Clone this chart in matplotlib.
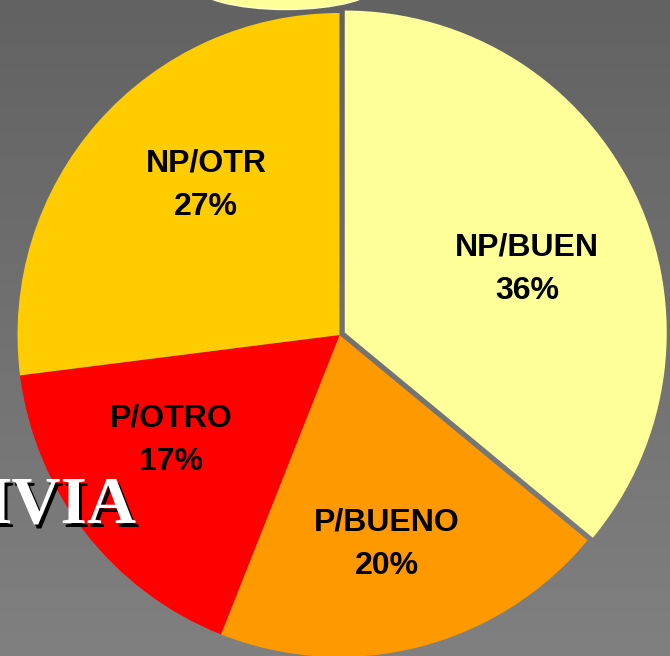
import numpy as np
import matplotlib
matplotlib.use("Agg")
import matplotlib.pyplot as plt
from matplotlib.patches import Ellipse

categories = ["NP/BUEN", "P/BUENO", "P/OTRO", "NP/OTR"]
values = [36, 20, 17, 27]
colors = ["#FFFF99", "#FF9900", "#FF0000", "#FFCC00"]
explode = [5.8, 0, 0, 0]

W, H = 670, 656
fig = plt.figure(figsize=(W / 100, H / 100), dpi=100)
ax = fig.add_axes([0, 0, 1, 1])
ax.set_xlim(0, W)
ax.set_ylim(0, H)
ax.axis("off")

# background gradient (dark top -> lighter bottom)
grad = np.linspace(98, 128, 256)[:, None] / 255.0
grad = np.repeat(grad, 2, axis=1)
ax.imshow(np.dstack([grad, grad, grad]), extent=[0, W, 0, H], aspect="auto",
          origin="upper", zorder=0)

# partial decorative oval at top
ax.add_patch(Ellipse((286, H + 15), 182, 49, facecolor="#FFFF99",
                     edgecolor="#FFFFCC", lw=1, zorder=1))

cx, cy, r = 339.5, H - 335, 322
wedges, _ = ax.pie(values, colors=colors, explode=explode, startangle=90,
                   counterclock=False, radius=r, center=(cx, cy),
                   wedgeprops=dict(linewidth=0), frame=True)
ax.set_xlim(0, W)
ax.set_ylim(0, H)
ax.set_aspect("auto")
ax.axis("off")

label_pos = [(527, 269.5), (387, 544), (171, 440), (206, 185.5)]
for cat, v, (x, y) in zip(categories, values, label_pos):
    ax.text(x, H - y, f"{cat}\n{v}%", ha="center", va="center",
            fontsize=23, fontweight="bold", family="Liberation Sans",
            linespacing=1.6, color="black", zorder=5)

# partial title text
ax.text(140, H - 526, "IVIA", ha="right", va="baseline", fontsize=49,
        fontweight="bold", family="Liberation Serif", color="black", zorder=6)
ax.text(137, H - 523, "IVIA", ha="right", va="baseline", fontsize=49,
        fontweight="bold", family="Liberation Serif", color="white", zorder=7)

fig.savefig("out.png", dpi=100)
